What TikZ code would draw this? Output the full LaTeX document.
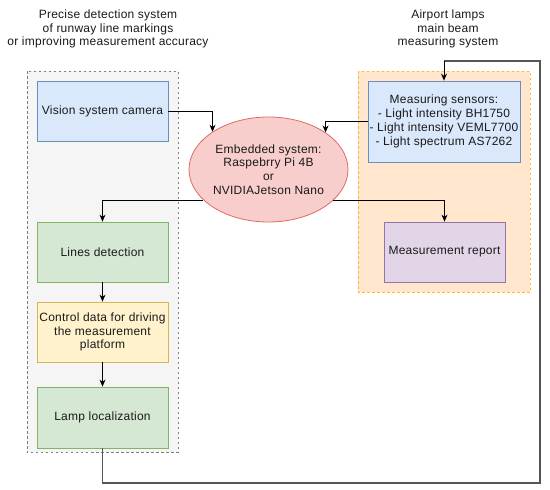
\documentclass[tikz,border=0pt]{standalone}
\usepackage{fontspec}
\setmainfont{Liberation Sans}[LetterSpace=2]
\usetikzlibrary{shapes.geometric,arrows.meta}
\definecolor{txt}{HTML}{1A1A1A}
\definecolor{grpgrayF}{HTML}{F5F5F5}
\definecolor{grpgrayD}{HTML}{808080}
\definecolor{grporF}{HTML}{FFE6CC}
\definecolor{grporD}{HTML}{FFB833}
\definecolor{blueF}{HTML}{DAE8FC}
\definecolor{blueD}{HTML}{6C8EBF}
\definecolor{greenF}{HTML}{D5E8D4}
\definecolor{greenD}{HTML}{82B366}
\definecolor{yelF}{HTML}{FFF2CC}
\definecolor{yelD}{HTML}{D6B656}
\definecolor{purF}{HTML}{E1D5E7}
\definecolor{purD}{HTML}{9673A6}
\definecolor{redF}{HTML}{F8CECC}
\definecolor{redD}{HTML}{E06A66}
\definecolor{fbline}{HTML}{555555}
\begin{document}
\begin{tikzpicture}[x=1pt,y=-1pt,
  every node/.style={font=\fontsize{12}{13.8}\selectfont, text=txt},
  box/.style={draw, rectangle, inner sep=1pt, align=center, line width=0.8pt},
  grp/.style={rectangle, line width=0.9pt, dash pattern=on 2.5pt off 2.5pt},
  conn/.style={draw=black, line width=0.8pt, -{Stealth[length=7pt,width=6pt]}},
  title/.style={align=center}
]
\useasboundingbox (0,0) rectangle (550,490);
\fill[white] (0,0) rectangle (550,490);
% groups
\draw[grp, fill=grpgrayF, draw=grpgrayD] (27,71) rectangle (178,452);
\draw[grp, fill=grporF, draw=grporD] (358,71) rectangle (530,292);
% titles
\node[title] (t1) at (108,29) {Precise detection system\\of runway line markings\\or improving measurement accuracy};
\node[title] (t2) at (448,29) {Airport lamps\\main beam\\measuring system};
% nodes
\node[box, fill=blueF, draw=blueD, minimum width=131pt, minimum height=60pt] (cam) at (102.5,111) {Vision system camera};
\node[box, fill=blueF, draw=blueD, minimum width=152pt, minimum height=81pt] (sens) at (444,121.5) {Measuring sensors:\\- Light intensity BH1750\\- Light intensity VEML7700\\- Light spectrum AS7262};
\node[draw=redD, fill=redF, ellipse, line width=0.8pt, inner sep=0pt, minimum width=159pt, minimum height=105pt, align=center] (emb) at (268.5,169.5) {Embedded system:\\Raspebrry Pi 4B\\or\\NVIDIAJetson Nano};
\node[box, fill=purF, draw=purD, minimum width=121pt, minimum height=60pt] (rep) at (444.5,252) {Measurement report};
\node[box, fill=greenF, draw=greenD, minimum width=131pt, minimum height=60pt] (lines) at (102.5,252) {Lines detection};
\node[box, fill=yelF, draw=yelD, minimum width=131pt, minimum height=60pt] (ctrl) at (102.5,332) {Control data for driving\\the measurement\\platform};
\node[box, fill=greenF, draw=greenD, minimum width=131pt, minimum height=61pt] (lamp) at (102.5,417.5) {Lamp localization};
% connectors
\draw[conn] (cam.east) -| (emb.146.9);
\draw[conn] (sens.west) -| (emb.33.1);
\draw[conn] (emb.205.2) -| (lines.north);
\draw[conn] (emb.334.8) -| (rep.north);
\draw[conn] (lines.south) -- (ctrl.north);
\draw[conn] (ctrl.south) -- (lamp.north);
\coordinate (f1) at (102.5,483);
\coordinate (f2) at (540,483);
\coordinate (f3) at (540,61);
\coordinate (f4) at (444,61);
\draw[line width=1.3pt, draw=fbline] (lamp.south) -- (f1) -- (f2) -- (f3) -- (f4);
\draw[conn] (f4) -- (sens.north);
\end{tikzpicture}
\end{document}
